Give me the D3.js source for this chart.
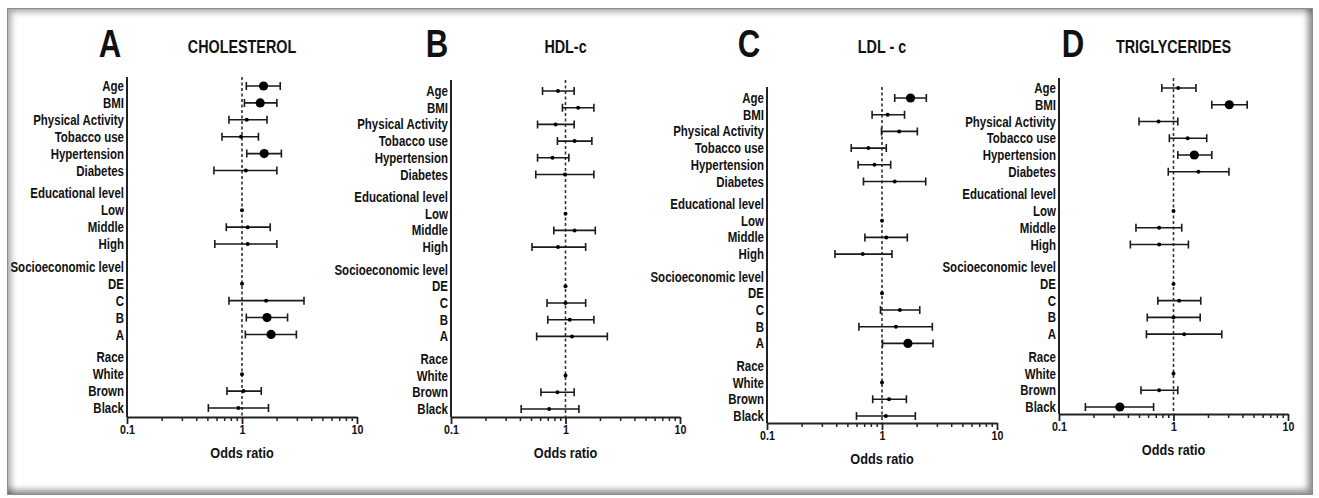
<!DOCTYPE html>
<html>
<head>
<meta charset="utf-8">
<script src="https://cdn.jsdelivr.net/npm/d3@7"></script>
<style>
  html, body { margin: 0; padding: 0; background: #fff; }
  #frame {
    position: absolute; left: 7px; top: 8px; width: 1304px; height: 485px;
    border: 1px solid #8c8c8c;
    box-shadow: inset 6px 6px 6px -3px rgba(0,0,0,0.35), inset -7px -7px 6px -3px rgba(0,0,0,0.45);
  }
  svg { position: absolute; left: 0; top: 0; }
  text { font-family: "Liberation Sans", Arial, sans-serif; font-weight: bold; fill: #111; }
</style>
</head>
<body>
<div id="frame"></div>
<div id="chart"></div>
<script>
var rowLabels = ["Age", "BMI", "Physical Activity", "Tobacco use", "Hypertension", "Diabetes",
  "Educational level", "Low", "Middle", "High",
  "Socioeconomic level", "DE", "C", "B", "A",
  "Race", "White", "Brown", "Black"];
var headerRows = ["Educational level", "Socioeconomic level", "Race"];
var panelLetters = ["A", "B", "C", "D"];
var panelTitles = ["CHOLESTEROL", "HDL-c", "LDL - c", "TRIGLYCERIDES"];
var xTicks = [0.1, 1, 10];

// odds ratios, lower / upper 95% CI, significance flag (null = header / reference)
var cholOR = [1.54, 1.44, 1.10, 0.98, 1.56, 1.08, null, 1, 1.12, 1.12, null, 1, 1.62, 1.65, 1.79, null, 1, 1.03, 0.93];
var cholLo = [1.09, 1.05, 0.77, 0.67, 1.10, 0.57, null, null, 0.73, 0.58, null, null, 0.77, 1.09, 1.07, null, null, 0.74, 0.51];
var cholHi = [2.15, 2.01, 1.65, 1.39, 2.20, 2.01, null, null, 1.76, 2.01, null, null, 3.46, 2.49, 2.97, null, null, 1.47, 1.70];
var cholSig = [1, 1, 0, 0, 1, 0, 0, 0, 0, 0, 0, 0, 0, 1, 1, 0, 0, 0, 0];

var hdlOR = [0.86, 1.29, 0.82, 1.20, 0.77, 0.99, null, 1, 1.20, 0.86, null, 1, 1.00, 1.09, 1.14, null, 1, 0.85, 0.72];
var hdlLo = [0.63, 0.94, 0.57, 0.85, 0.57, 0.55, null, null, 0.79, 0.51, null, null, 0.69, 0.70, 0.56, null, null, 0.61, 0.41];
var hdlHi = [1.19, 1.77, 1.19, 1.70, 1.07, 1.77, null, null, 1.82, 1.50, null, null, 1.50, 1.77, 2.32, null, null, 1.19, 1.31];
var hdlSig = [0, 0, 0, 0, 0, 0, 0, 0, 0, 0, 0, 0, 0, 0, 0, 0, 0, 0, 0];

var ldlOR = [1.77, 1.12, 1.41, 0.76, 0.86, 1.29, null, 1, 1.09, 0.68, null, 1, 1.43, 1.32, 1.68, null, 1, 1.15, 1.08];
var ldlLo = [1.29, 0.82, 0.99, 0.54, 0.62, 0.69, null, null, 0.71, 0.39, null, null, 0.97, 0.63, 1.01, null, null, 0.83, 0.60];
var ldlHi = [2.43, 1.57, 2.03, 1.09, 1.19, 2.40, null, null, 1.66, 1.22, null, null, 2.13, 2.74, 2.78, null, null, 1.63, 1.95];
var ldlSig = [1, 0, 0, 0, 0, 0, 0, 0, 0, 0, 0, 0, 0, 0, 1, 0, 0, 0, 0];

var tgOR = [1.10, 3.07, 0.74, 1.33, 1.52, 1.65, null, 1, 0.75, 0.75, null, 1, 1.12, 1.00, 1.24, null, 1, 0.75, 0.34];
var tgLo = [0.79, 2.16, 0.50, 0.92, 1.09, 0.90, null, null, 0.47, 0.42, null, null, 0.73, 0.59, 0.58, null, null, 0.52, 0.17];
var tgHi = [1.57, 4.40, 1.09, 1.95, 2.16, 3.05, null, null, 1.18, 1.35, null, null, 1.73, 1.71, 2.64, null, null, 1.09, 0.67];
var tgSig = [0, 1, 0, 0, 1, 0, 0, 0, 0, 0, 0, 0, 0, 0, 0, 0, 0, 0, 1];

var seriesOR = [cholOR, hdlOR, ldlOR, tgOR];
var seriesLo = [cholLo, hdlLo, ldlLo, tgLo];
var seriesHi = [cholHi, hdlHi, ldlHi, tgHi];
var seriesSig = [cholSig, hdlSig, ldlSig, tgSig];

// layout of each panel (pixels)
var layout = [
  {x0: 127, x1: 357, top: 77, bottom: 417, rowTop: 86, rowBottom: 408, letterX: 110},
  {x0: 451, x1: 680, top: 80, bottom: 417, rowTop: 91, rowBottom: 409, letterX: 437},
  {x0: 767, x1: 997, top: 87, bottom: 423, rowTop: 98, rowBottom: 416, letterX: 749},
  {x0: 1059, x1: 1288, top: 78, bottom: 414, rowTop: 88, rowBottom: 407, letterX: 1073}
];
var squeezeK = 0.82;

// narrow look: move x/y into a transform and squeeze horizontally
function squeeze(sel) {
  sel.each(function() {
    var t = d3.select(this);
    var tx = +t.attr("x") || 0, ty = +t.attr("y") || 0;
    t.attr("x", 0).attr("y", 0)
      .attr("transform", "translate(" + tx + "," + ty + ") scale(" + squeezeK + ",1)");
  });
}

// slot index with extra space before each group header
var slots = [];
var pos = 0;
rowLabels.forEach(function(r, i) {
  if (i > 0) pos += 1;
  if (headerRows.includes(r)) pos += 0.35;
  slots.push(pos);
});

var svg = d3.select("#chart").append("svg")
  .attr("width", 1319)
  .attr("height", 498);

panelLetters.forEach(function(letter, p) {
  var L = layout[p];
  var g = svg.append("g").attr("class", "panel");

  var x = d3.scaleLog().domain([0.1, 10]).range([L.x0, L.x1]);
  var y = d3.scaleLinear().domain([0, slots[slots.length - 1]]).range([L.rowTop, L.rowBottom]);

  g.append("text")
    .attr("x", L.letterX).attr("y", 57)
    .attr("text-anchor", "middle")
    .style("font-size", "38px")
    .text(letter)
    .call(squeeze);

  g.append("text")
    .attr("x", x(1)).attr("y", 52.5)
    .attr("text-anchor", "middle")
    .style("font-size", "17.5px")
    .text(panelTitles[p])
    .call(squeeze);

  // row labels
  g.selectAll(".rowlabel")
    .data(rowLabels)
    .enter().append("text")
    .attr("class", "rowlabel")
    .attr("x", L.x0 - 3)
    .attr("y", function(d, i) { return y(slots[i]); })
    .attr("dy", "0.36em")
    .attr("text-anchor", "end")
    .style("font-size", "14px")
    .text(function(d) { return d; })
    .call(squeeze);

  // minor ticks
  var minor = [];
  [0.1, 1].forEach(function(dec) {
    for (var k = 2; k <= 9; k++) minor.push(dec * k);
  });
  g.append("g")
    .attr("transform", "translate(0," + L.bottom + ")")
    .call(d3.axisBottom(x).tickValues(minor).tickSize(4).tickFormat(""))
    .call(function(a) {
      a.select(".domain").remove();
      a.selectAll("line").attr("stroke", "#222").attr("stroke-width", 1.5);
    });

  // major ticks + axis line
  var xa = g.append("g")
    .attr("transform", "translate(0," + L.bottom + ")")
    .call(d3.axisBottom(x).tickValues(xTicks).tickSize(7).tickSizeOuter(0)
      .tickFormat(function(d) { return d === 0.1 ? "0.1" : d3.format("d")(d); }));
  xa.attr("font-size", null).attr("font-family", null);
  xa.select(".domain").attr("stroke", "#222").attr("stroke-width", 2);
  xa.selectAll(".tick line").attr("stroke", "#222").attr("stroke-width", 1.8);
  xa.selectAll(".tick text")
    .attr("y", 16.5).attr("dy", null)
    .style("font-size", "13px")
    .attr("fill", "#111")
    .call(squeeze);

  g.append("text")
    .attr("x", x(1)).attr("y", L.bottom + 41)
    .attr("text-anchor", "middle")
    .style("font-size", "15.5px")
    .text("Odds ratio")
    .call(squeeze);

  // y axis line
  g.append("line")
    .attr("x1", L.x0).attr("x2", L.x0)
    .attr("y1", L.top).attr("y2", L.bottom)
    .attr("stroke", "#222").attr("stroke-width", 2);

  // reference line at OR = 1
  g.append("line")
    .attr("x1", x(1)).attr("x2", x(1))
    .attr("y1", L.top).attr("y2", L.bottom)
    .attr("stroke", "#333").attr("stroke-width", 1.6)
    .attr("stroke-dasharray", "3,2.5");

  var rows = rowLabels.map(function(r, i) {
    return {or: seriesOR[p][i], lo: seriesLo[p][i], hi: seriesHi[p][i], sig: seriesSig[p][i], yy: y(slots[i])};
  });
  var bars = rows.filter(function(d) { return d.lo != null; });
  var pts = rows.filter(function(d) { return d.or != null; });

  g.selectAll(".ci")
    .data(bars)
    .enter().append("path")
    .attr("class", "ci")
    .attr("d", function(d) {
      var a = x(d.lo), b = x(d.hi), c = d.yy;
      return "M" + a + "," + (c - 4) + "V" + (c + 4) +
        "M" + a + "," + c + "H" + b +
        "M" + b + "," + (c - 4) + "V" + (c + 4);
    })
    .attr("fill", "none")
    .attr("stroke", "#1a1a1a")
    .attr("stroke-width", 1.6);

  g.selectAll(".pt")
    .data(pts)
    .enter().append("circle")
    .attr("class", "pt")
    .attr("cx", function(d) { return x(d.or); })
    .attr("cy", function(d) { return d.yy; })
    .attr("r", function(d) { return d.sig ? 4.6 : 2; })
    .attr("fill", "#000");
});
</script>
</body>
</html>
